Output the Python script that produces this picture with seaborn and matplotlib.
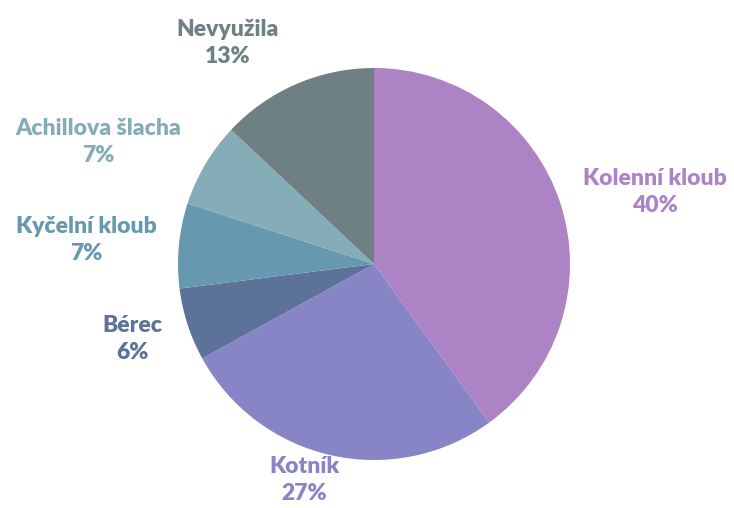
import matplotlib
matplotlib.use("Agg")
import matplotlib.pyplot as plt
import seaborn as sns

sns.set_theme(style="white")
plt.rcParams['font.family'] = ['Lato', 'DejaVu Sans']

# Data
categories = ['Kolenní kloub', 'Kotník', 'Bérec', 'Kyčelní kloub', 'Achillova šlacha', 'Nevyužila']
shares = [40, 27, 6, 7, 7, 13]
colors = ['#AC84C5', '#8785C5', '#5D7299', '#6698B0', '#84ADB7', '#6E8083']

# label centres in pixels (x, y from top)
label_pos = [(655, 192), (304, 480), (132, 339), (86, 240), (98, 142), (228, 43)]

W, H = 734, 508
fig = plt.figure(figsize=(W / 100, H / 100), dpi=100)
cx, cy, r = 374, 264, 196
ax = fig.add_axes([(cx - r) / W, (H - cy - r) / H, 2 * r / W, 2 * r / H])
ax.pie(shares, colors=colors, startangle=90, counterclock=False, radius=1,
       wedgeprops={'linewidth': 0})
ax.set_xlim(-1, 1)
ax.set_ylim(-1, 1)
ax.axis('off')

for cat, val, col, (px, py) in zip(categories, shares, colors, label_pos):
    fig.text(px / W, 1 - py / H, f'{cat}\n{val}%', ha='center', va='center',
             color=col, fontsize=16.5, fontweight='heavy', linespacing=1.4)

fig.savefig('out.png', dpi=100)
